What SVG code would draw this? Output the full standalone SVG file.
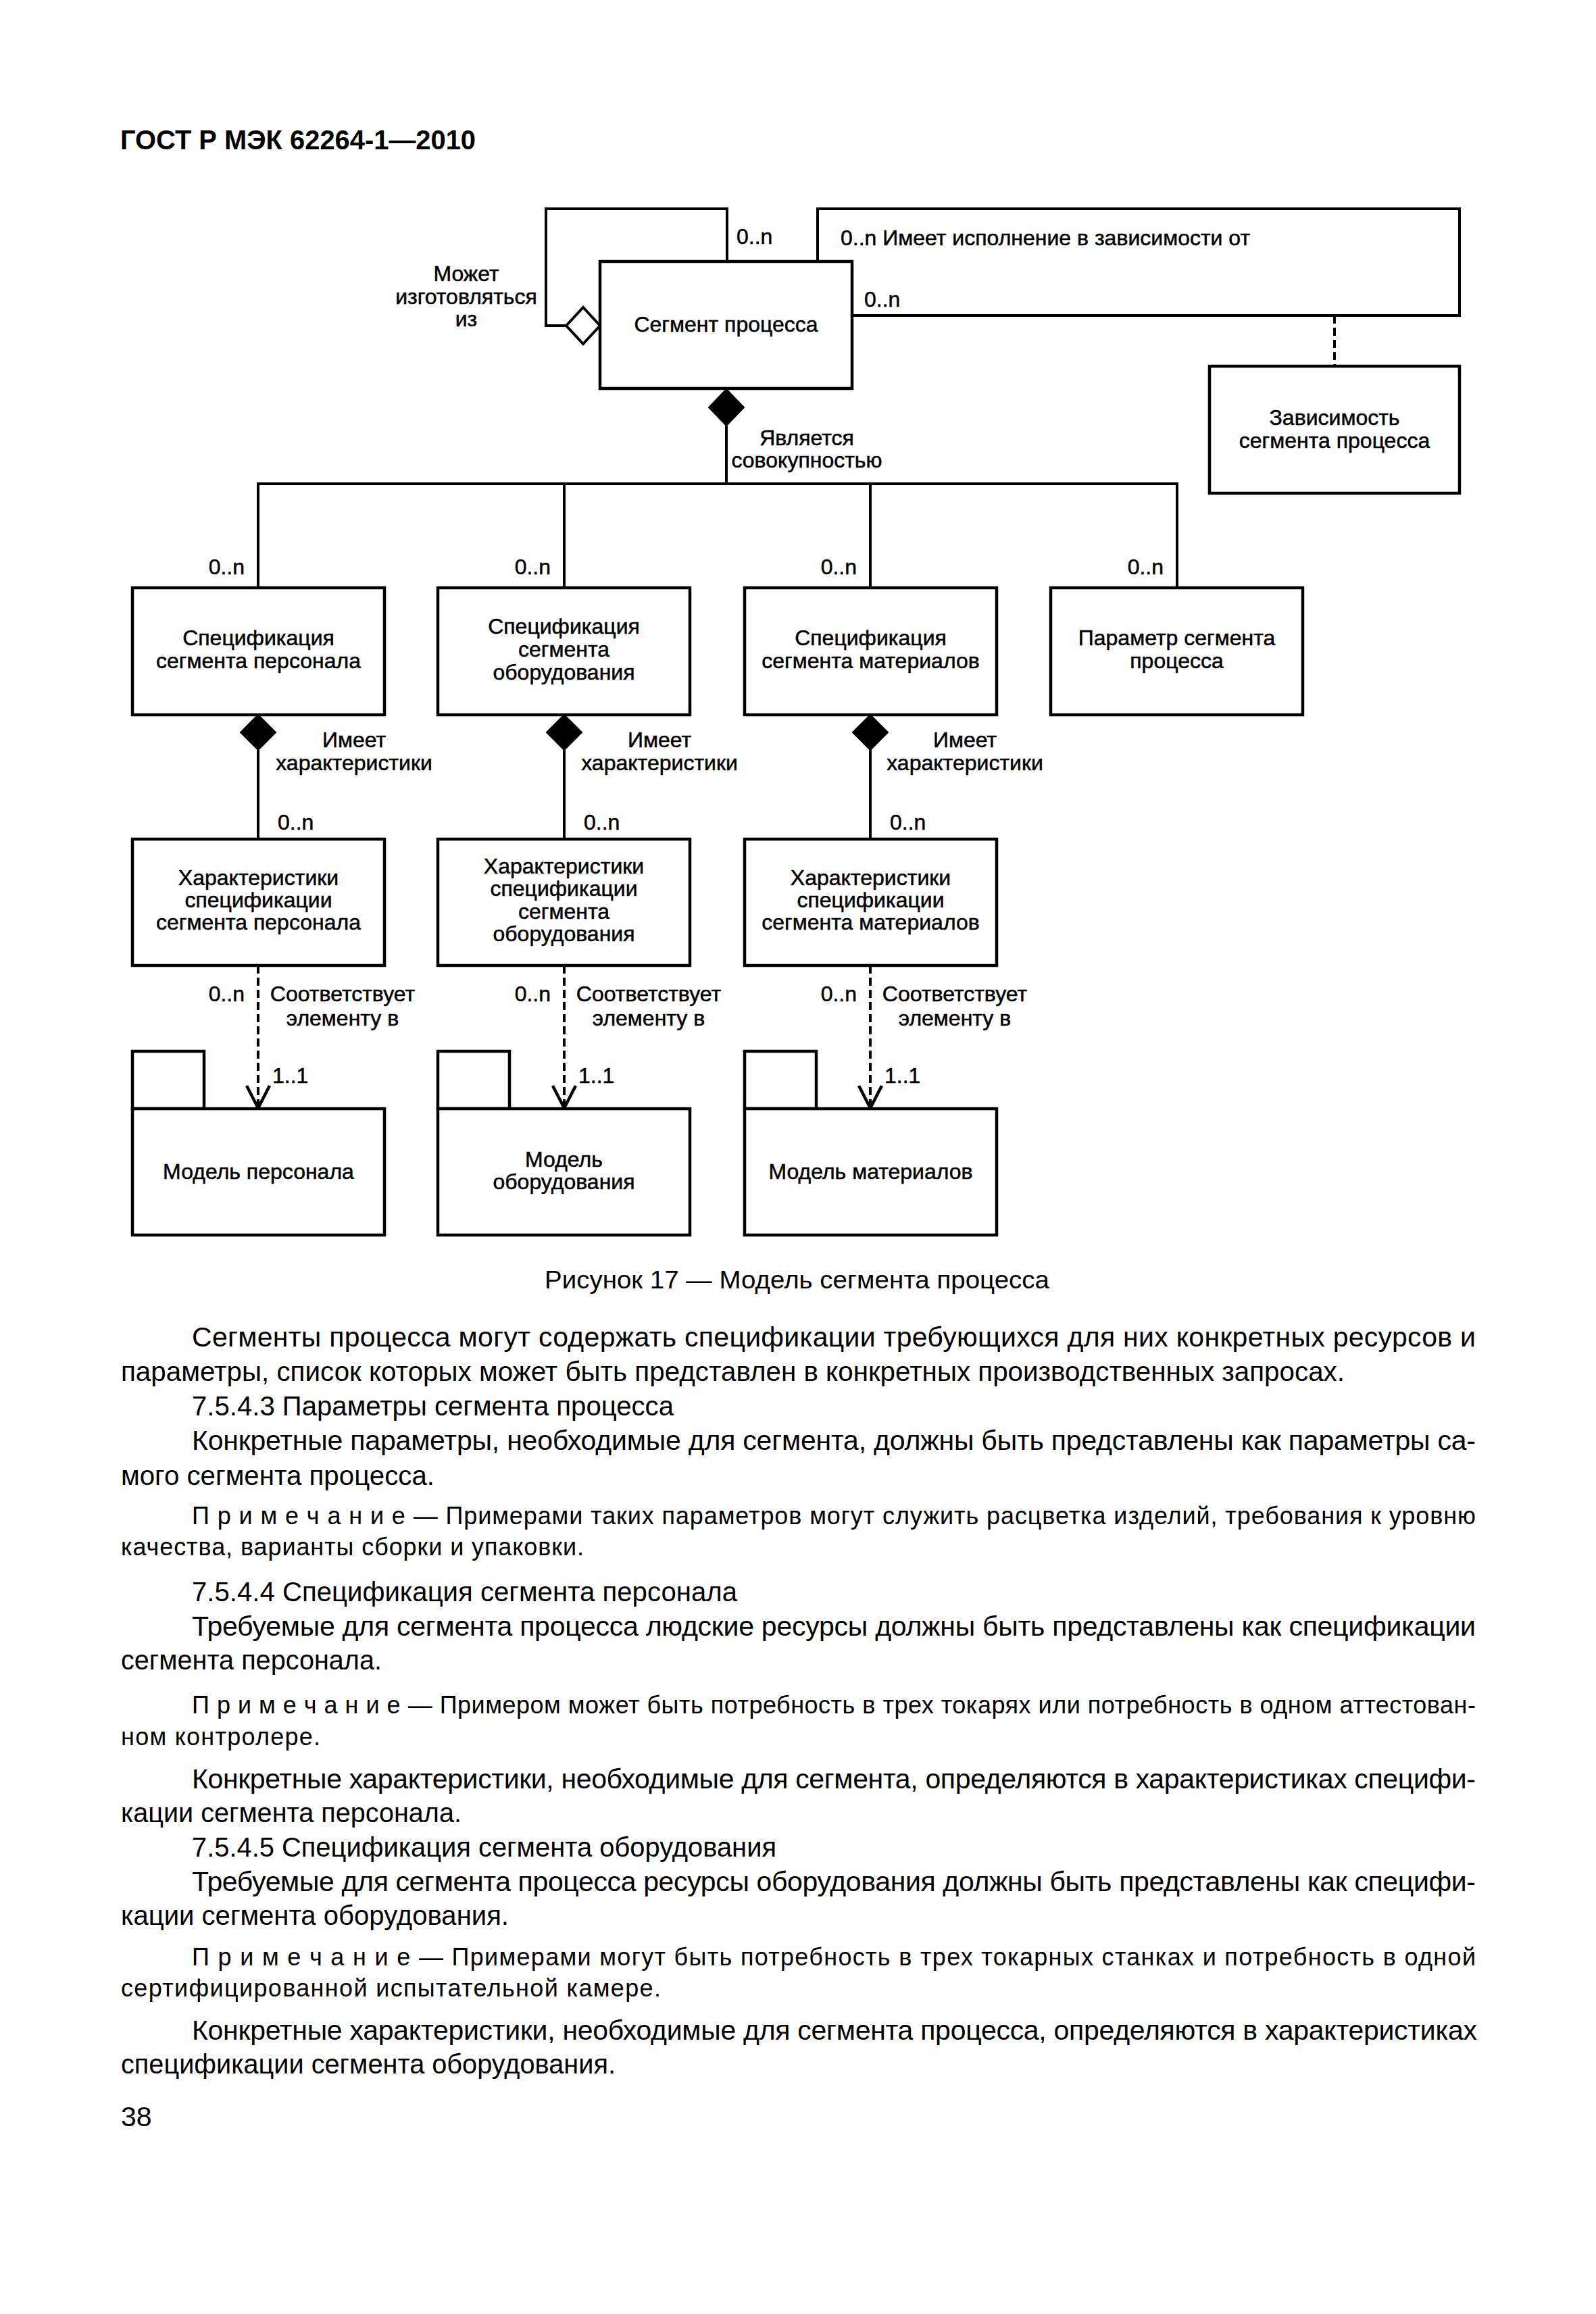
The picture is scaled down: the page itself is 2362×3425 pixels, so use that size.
<svg xmlns="http://www.w3.org/2000/svg" width="2362" height="3425" viewBox="0 0 2362 3425" xml:space="preserve">
<style>
.box{fill:#fff;stroke:#000;stroke-width:4.5}
.ln{fill:none;stroke:#000;stroke-width:4}
.dash{fill:none;stroke:#000;stroke-width:4;stroke-dasharray:12 6}
.arr{fill:none;stroke:#000;stroke-width:4.5;stroke-linejoin:miter}
.dia{fill:#000;stroke:#000;stroke-width:2}
.odia{fill:#fff;stroke:#000;stroke-width:4}
.lbl{font-family:"Liberation Sans",Arial,sans-serif;font-size:32px;fill:#000;stroke:#000;stroke-width:0.5}
.c{text-anchor:middle}
.e{text-anchor:end}
.body{font-family:"Liberation Sans",Arial,sans-serif;font-size:41px;fill:#000}
.note{font-family:"Liberation Sans",Arial,sans-serif;font-size:36px;fill:#000}
.hdr{font-family:"Liberation Sans",Arial,sans-serif;font-size:40px;font-weight:bold;fill:#000}
.cap{font-family:"Liberation Sans",Arial,sans-serif;font-size:37px;fill:#000}
</style>
<rect width="2362" height="3425" fill="#fff"/>
<text class="hdr" x="178" y="221" textLength="526" lengthAdjust="spacingAndGlyphs">ГОСТ Р МЭК 62264-1—2010</text>
<g id="connectors">
<path class="ln" d="M1076 387 V309 H808 V482 H838"/>
<polygon class="odia" points="838,482 863,455 888,482 863,509"/>
<path class="ln" d="M1210 387 V309 H2160 V467 H1261"/>
<line class="dash" x1="1975" y1="467" x2="1975" y2="542"/>
<polygon class="dia" points="1075,576 1101,603 1075,630 1049,603"/>
<path class="ln" d="M1075 630 V716 M380 716 H1744 M382 716 V870 M835 716 V870 M1288 716 V870 M1742 716 V870"/>
<polygon class="dia" points="382,1058 408,1084 382,1110 356,1084"/>
<polygon class="dia" points="835,1058 861,1084 835,1110 809,1084"/>
<polygon class="dia" points="1288,1058 1314,1084 1288,1110 1262,1084"/>
<path class="ln" d="M382 1110 V1242 M835 1110 V1242 M1288 1110 V1242"/>
<path class="dash" d="M382 1429 V1638 M835 1429 V1638 M1288 1429 V1638"/>
<path class="arr" d="M365 1607 L382 1640 L399 1607 M818 1607 L835 1640 L852 1607 M1271 1607 L1288 1640 L1305 1607"/>
</g>
<g id="connector-labels">
<text class="lbl" x="1090" y="361">0..n</text>
<text class="lbl" x="1244" y="363">0..n  Имеет исполнение в зависимости от</text>
<text class="lbl" x="1279" y="454">0..n</text>
<text class="lbl c" x="690" y="416">Может</text>
<text class="lbl c" x="690" y="450">изготовляться</text>
<text class="lbl c" x="690" y="483">из</text>
<text class="lbl c" x="1194" y="659">Является</text>
<text class="lbl c" x="1194" y="692">совокупностью</text>
<text class="lbl e" x="362" y="850">0..n</text>
<text class="lbl e" x="815" y="850">0..n</text>
<text class="lbl e" x="1268" y="850">0..n</text>
<text class="lbl e" x="1722" y="850">0..n</text>
<text class="lbl c" x="524" y="1106">Имеет</text>
<text class="lbl c" x="524" y="1140">характеристики</text>
<text class="lbl c" x="976" y="1106">Имеет</text>
<text class="lbl c" x="976" y="1140">характеристики</text>
<text class="lbl c" x="1428" y="1106">Имеет</text>
<text class="lbl c" x="1428" y="1140">характеристики</text>
<text class="lbl" x="411" y="1228">0..n</text>
<text class="lbl" x="864" y="1228">0..n</text>
<text class="lbl" x="1317" y="1228">0..n</text>
<text class="lbl e" x="362" y="1482">0..n</text>
<text class="lbl c" x="507" y="1482">Соответствует</text>
<text class="lbl c" x="507" y="1518">элементу в</text>
<text class="lbl" x="403" y="1603">1..1</text>
<text class="lbl e" x="815" y="1482">0..n</text>
<text class="lbl c" x="960" y="1482">Соответствует</text>
<text class="lbl c" x="960" y="1518">элементу в</text>
<text class="lbl" x="856" y="1603">1..1</text>
<text class="lbl e" x="1268" y="1482">0..n</text>
<text class="lbl c" x="1413" y="1482">Соответствует</text>
<text class="lbl c" x="1413" y="1518">элементу в</text>
<text class="lbl" x="1309" y="1603">1..1</text>
</g>
<g id="node-segment">
<rect class="box" x="888" y="387" width="373" height="188"/>
<text class="lbl c" x="1074.5" y="491">Сегмент процесса</text>
</g>
<g id="node-dependency">
<rect class="box" x="1790" y="542" width="370" height="188"/>
<text class="lbl c" x="1975" y="629">Зависимость</text>
<text class="lbl c" x="1975" y="663">сегмента процесса</text>
</g>
<g id="node-spec-personnel">
<rect class="box" x="196" y="870" width="373" height="188"/>
<text class="lbl c" x="382.5" y="955">Спецификация</text>
<text class="lbl c" x="382.5" y="989">сегмента персонала</text>
</g>
<g id="node-spec-equipment">
<rect class="box" x="648" y="870" width="373" height="188"/>
<text class="lbl c" x="834.5" y="938">Спецификация</text>
<text class="lbl c" x="834.5" y="972">сегмента</text>
<text class="lbl c" x="834.5" y="1006">оборудования</text>
</g>
<g id="node-spec-material">
<rect class="box" x="1102" y="870" width="373" height="188"/>
<text class="lbl c" x="1288.5" y="955">Спецификация</text>
<text class="lbl c" x="1288.5" y="989">сегмента материалов</text>
</g>
<g id="node-parameter">
<rect class="box" x="1555" y="870" width="373" height="188"/>
<text class="lbl c" x="1741.5" y="955">Параметр сегмента</text>
<text class="lbl c" x="1741.5" y="989">процесса</text>
</g>
<g id="node-char-personnel">
<rect class="box" x="196" y="1242" width="373" height="187"/>
<text class="lbl c" x="382.5" y="1310">Характеристики</text>
<text class="lbl c" x="382.5" y="1343">спецификации</text>
<text class="lbl c" x="382.5" y="1376">сегмента персонала</text>
</g>
<g id="node-char-equipment">
<rect class="box" x="648" y="1242" width="373" height="187"/>
<text class="lbl c" x="834.5" y="1293">Характеристики</text>
<text class="lbl c" x="834.5" y="1326">спецификации</text>
<text class="lbl c" x="834.5" y="1360">сегмента</text>
<text class="lbl c" x="834.5" y="1393">оборудования</text>
</g>
<g id="node-char-material">
<rect class="box" x="1102" y="1242" width="373" height="187"/>
<text class="lbl c" x="1288.5" y="1310">Характеристики</text>
<text class="lbl c" x="1288.5" y="1343">спецификации</text>
<text class="lbl c" x="1288.5" y="1376">сегмента материалов</text>
</g>
<g id="node-model-personnel">
<rect class="box" x="196" y="1556" width="106" height="85"/>
<rect class="box" x="196" y="1641" width="373" height="187"/>
<text class="lbl c" x="382.5" y="1745">Модель персонала</text>
</g>
<g id="node-model-equipment">
<rect class="box" x="648" y="1556" width="106" height="85"/>
<rect class="box" x="648" y="1641" width="373" height="187"/>
<text class="lbl c" x="834.5" y="1727">Модель</text>
<text class="lbl c" x="834.5" y="1760">оборудования</text>
</g>
<g id="node-model-material">
<rect class="box" x="1102" y="1556" width="106" height="85"/>
<rect class="box" x="1102" y="1641" width="373" height="187"/>
<text class="lbl c" x="1288.5" y="1745">Модель материалов</text>
</g>
<text class="cap" x="806" y="1907" textLength="747" lengthAdjust="spacingAndGlyphs">Рисунок  17 — Модель сегмента процесса</text>
<g id="body-text">
<text class="body" x="284" y="1993" textLength="1900" lengthAdjust="spacing">Сегменты процесса могут содержать спецификации требующихся для них конкретных ресурсов и</text>
<text class="body" x="179" y="2044" textLength="1811" lengthAdjust="spacingAndGlyphs">параметры, список которых может быть представлен в конкретных производственных запросах.</text>
<text class="body" x="284" y="2095" textLength="713" lengthAdjust="spacingAndGlyphs">7.5.4.3 Параметры сегмента процесса</text>
<text class="body" x="284" y="2146" textLength="1900" lengthAdjust="spacing">Конкретные параметры, необходимые для сегмента, должны  быть представлены как параметры са-</text>
<text class="body" x="179" y="2198" textLength="464" lengthAdjust="spacingAndGlyphs">мого сегмента процесса.</text>
<text class="note" x="284" y="2256" textLength="1900" lengthAdjust="spacing">П р и м е ч а н и е — Примерами таких параметров могут служить расцветка изделий, требования к уровню</text>
<text class="note" x="179" y="2302" textLength="685" lengthAdjust="spacing">качества, варианты сборки и упаковки.</text>
<text class="body" x="284" y="2370" textLength="807" lengthAdjust="spacingAndGlyphs">7.5.4.4  Спецификация сегмента персонала</text>
<text class="body" x="284" y="2421" textLength="1900" lengthAdjust="spacing">Требуемые для сегмента процесса людские ресурсы должны быть представлены как спецификации</text>
<text class="body" x="179" y="2471" textLength="386" lengthAdjust="spacingAndGlyphs">сегмента персонала.</text>
<text class="note" x="284" y="2536" textLength="1900" lengthAdjust="spacing">П р и м е ч а н и е — Примером может быть потребность в трех токарях или потребность в одном аттестован-</text>
<text class="note" x="179" y="2583" textLength="295" lengthAdjust="spacing">ном  контролере.</text>
<text class="body" x="284" y="2647" textLength="1900" lengthAdjust="spacing">Конкретные характеристики, необходимые для сегмента, определяются в характеристиках специфи-</text>
<text class="body" x="179" y="2697" textLength="504" lengthAdjust="spacingAndGlyphs">кации сегмента персонала.</text>
<text class="body" x="284" y="2748" textLength="865" lengthAdjust="spacingAndGlyphs">7.5.4.5 Спецификация сегмента оборудования</text>
<text class="body" x="284" y="2799" textLength="1900" lengthAdjust="spacing">Требуемые для сегмента процесса ресурсы оборудования должны быть представлены как специфи-</text>
<text class="body" x="179" y="2849" textLength="574" lengthAdjust="spacingAndGlyphs">кации сегмента оборудования.</text>
<text class="note" x="284" y="2909" textLength="1900" lengthAdjust="spacing">П р и м е ч а н и е — Примерами могут быть потребность в трех токарных станках и потребность в одной</text>
<text class="note" x="179" y="2955" textLength="799" lengthAdjust="spacing">сертифицированной  испытательной  камере.</text>
<text class="body" x="284" y="3019" textLength="1902" lengthAdjust="spacing">Конкретные характеристики, необходимые для сегмента процесса, определяются в характеристиках</text>
<text class="body" x="179" y="3069" textLength="732" lengthAdjust="spacingAndGlyphs">спецификации сегмента оборудования.</text>
<text class="body" x="179" y="3147">38</text>
</g>
</svg>
